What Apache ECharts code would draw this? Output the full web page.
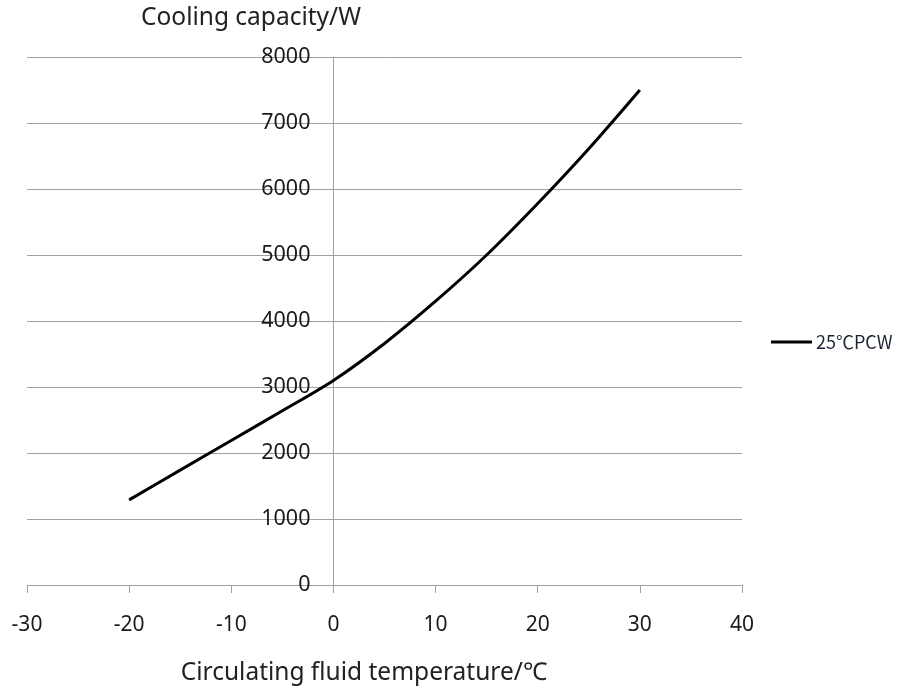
<!DOCTYPE html>
<html>
<head>
<meta charset="utf-8">
<script src="https://cdn.jsdelivr.net/npm/echarts@6/dist/echarts.min.js"></script>
<style>
  html, body { margin: 0; padding: 0; background: #fff; }
  #chart { width: 903px; height: 695px; }
</style>
</head>
<body>
<div id="chart"></div>
<script>
// Data
const temperatures = [-20, -15, -10, -5, 0, 5, 10, 15, 20, 25, 30];
const capacity25PCW = [1290, 1740, 2190, 2640, 3100, 3660, 4300, 5000, 5780, 6610, 7500];
const seriesName = '25℃PCW';
const yAxisTitle = 'Cooling capacity/W';
const xAxisTitle = 'Circulating fluid temperature/℃';

const FONT = '"Noto Sans", "Open Sans", sans-serif';
const GRID_LEFT = 27, GRID_RIGHT = 161, X_MIN = -30, X_MAX = 40;
const plotWidth = 903 - GRID_LEFT - GRID_RIGHT;
const zeroOffset = (0 - X_MIN) / (X_MAX - X_MIN) * plotWidth;

const chart = echarts.init(document.getElementById('chart'));

chart.setOption({
  animation: false,
  backgroundColor: '#ffffff',
  grid: { left: GRID_LEFT, right: GRID_RIGHT, top: 57, bottom: 110, containLabel: false, outerBoundsMode: 'none' },
  legend: {
    show: true,
    left: 771,
    top: 333,
    padding: 0,
    orient: 'vertical',
    itemWidth: 41,
    itemHeight: 3,
    itemGap: 4,
    icon: 'rect',
    textStyle: { fontFamily: '"Noto Sans CJK SC", "Noto Sans", sans-serif', fontSize: 18, color: '#1c2333', padding: [0, 0, 0, -1] },
    data: [{ name: seriesName, itemStyle: { color: '#000' } }]
  },
  xAxis: {
    type: 'value',
    min: X_MIN,
    max: X_MAX,
    interval: 10,
    axisLine: { show: true, onZero: true, lineStyle: { color: '#a0a0a0', width: 1 } },
    axisTick: { show: true, length: 8, lineStyle: { color: '#a0a0a0' } },
    axisLabel: { margin: 30, fontFamily: FONT, fontSize: 21, color: '#1a1a1a', formatter: v => String(v) },
    splitLine: { show: false }
  },
  yAxis: {
    type: 'value',
    min: 0,
    max: 8000,
    interval: 1000,
    offset: -zeroOffset,
    axisLine: { show: true, onZero: false, lineStyle: { color: '#a0a0a0', width: 1 } },
    axisTick: { show: false },
    axisLabel: { margin: 23, fontFamily: FONT, fontSize: 21.5, color: '#1a1a1a', formatter: v => String(v) },
    splitLine: { show: true, lineStyle: { color: '#a0a0a0', width: 1 } }
  },
  graphic: [
    {
      type: 'text',
      style: { text: yAxisTitle, x: 251, y: 18, fontFamily: FONT, fontSize: 24.5, fill: '#222', align: 'center', verticalAlign: 'middle' }
    },
    {
      type: 'text',
      style: { text: xAxisTitle, x: 364, y: 673, fontFamily: FONT, fontSize: 24.5, fill: '#222', align: 'center', verticalAlign: 'middle' }
    }
  ],
  series: [{
    name: seriesName,
    type: 'line',
    data: temperatures.map((t, i) => [t, capacity25PCW[i]]),
    smooth: 0.3,
    showSymbol: false,
    symbol: 'none',
    lineStyle: { color: '#000', width: 3 },
    itemStyle: { color: '#000' }
  }]
});
</script>
</body>
</html>
